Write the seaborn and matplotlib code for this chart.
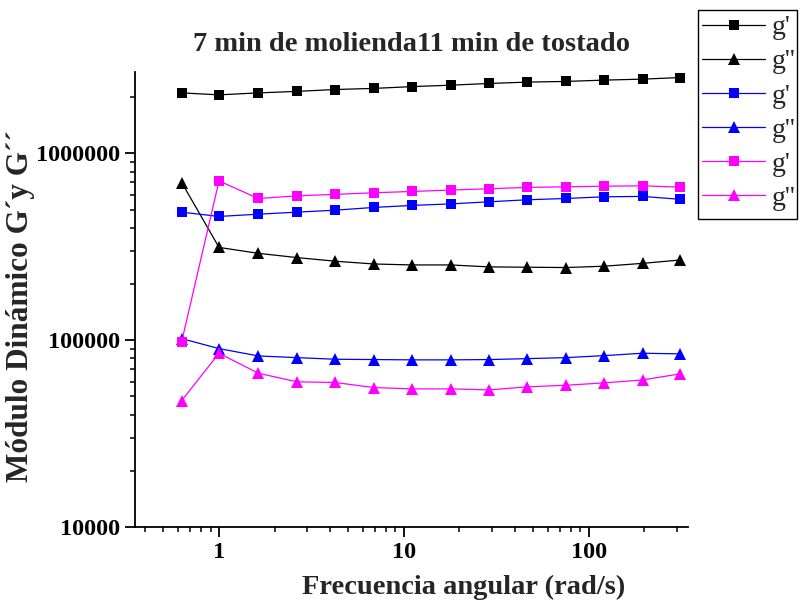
import numpy as np
import pandas as pd
import matplotlib
matplotlib.use("Agg")
import matplotlib.pyplot as plt
import seaborn as sns
from matplotlib.patches import Rectangle
from matplotlib.ticker import LogLocator, NullFormatter, FixedLocator, FixedFormatter

# ---- data ----
freq = [0.628, 1.0, 1.63, 2.64, 4.25, 6.87, 11.1, 17.9, 28.9, 46.5, 75.1, 121, 196, 314]

g1_black = [2.11e6, 2.06e6, 2.11e6, 2.15e6, 2.20e6, 2.23e6, 2.28e6, 2.32e6, 2.37e6, 2.41e6, 2.43e6, 2.47e6, 2.50e6, 2.55e6]
g2_black = [6.99e5, 3.14e5, 2.92e5, 2.77e5, 2.65e5, 2.56e5, 2.53e5, 2.53e5, 2.47e5, 2.46e5, 2.45e5, 2.49e5, 2.58e5, 2.69e5]
g1_blue = [4.85e5, 4.60e5, 4.73e5, 4.85e5, 4.97e5, 5.14e5, 5.27e5, 5.37e5, 5.51e5, 5.65e5, 5.74e5, 5.86e5, 5.89e5, 5.68e5]
g2_blue = [1.02e5, 9.02e4, 8.24e4, 8.07e4, 7.91e4, 7.88e4, 7.85e4, 7.85e4, 7.88e4, 7.97e4, 8.07e4, 8.27e4, 8.52e4, 8.45e4]
g1_mag = [9.83e4, 7.13e5, 5.74e5, 5.93e5, 6.04e5, 6.16e5, 6.26e5, 6.37e5, 6.47e5, 6.58e5, 6.63e5, 6.68e5, 6.71e5, 6.60e5]
g2_mag = [4.75e4, 8.52e4, 6.66e4, 5.99e4, 5.94e4, 5.58e4, 5.49e4, 5.49e4, 5.42e4, 5.63e4, 5.74e4, 5.91e4, 6.13e4, 6.61e4]

series_labels = ["g'", "g''", "g'", "g''", "g'", "g''"]
series_values = [g1_black, g2_black, g1_blue, g2_blue, g1_mag, g2_mag]
series_colors = ["#000000", "#000000", "#0000FF", "#0000FF", "#FF00FF", "#FF00FF"]
series_markers = ["s", "^", "s", "^", "s", "^"]

y_ticks = [10000, 100000, 1000000]
y_tick_labels = ["10000", "100000", "1000000"]
x_ticks = [1, 10, 100]
x_tick_labels = ["1", "10", "100"]

title = "7 min de molienda11 min de tostado"
xlabel = "Frecuencia angular (rad/s)"
ylabel = "Módulo Dinámico G´y G´´"

# ---- style ----
sns.set_style("ticks")
plt.rcParams["font.family"] = ["Liberation Serif", "DejaVu Serif"]

W, H = 801, 614
fig = plt.figure(figsize=(W/100, H/100), dpi=100)
ax = fig.add_axes([135/W, 1-527/H, (688-135)/W, (527-72)/H])
ax.set_xscale("log")
ax.set_yscale("log")

for i, (lab, vals, col, mk) in enumerate(zip(series_labels, series_values, series_colors, series_markers)):
    df = pd.DataFrame({"freq": freq, "val": vals})
    ms = 7.5 if mk == "s" else 9
    sns.lineplot(data=df, x="freq", y="val", ax=ax, color=col, marker=mk,
                 markersize=ms, markeredgewidth=0, linewidth=0.9, label=lab,
                 legend=False)

ax.set_xlim(0.351, 345)
ax.set_ylim(10000, 2.73e6)

for s in ["top", "right"]:
    ax.spines[s].set_visible(False)
for s in ["left", "bottom"]:
    ax.spines[s].set_linewidth(1.3)
    ax.spines[s].set_color("black")

ax.xaxis.set_major_locator(FixedLocator(x_ticks))
ax.xaxis.set_major_formatter(FixedFormatter(x_tick_labels))
ax.yaxis.set_major_locator(FixedLocator(y_ticks))
ax.yaxis.set_major_formatter(FixedFormatter(y_tick_labels))
ax.xaxis.set_minor_locator(LogLocator(base=10, subs=np.arange(2, 10), numticks=20))
ax.yaxis.set_minor_locator(LogLocator(base=10, subs=np.arange(2, 10), numticks=20))
ax.xaxis.set_minor_formatter(NullFormatter())
ax.yaxis.set_minor_formatter(NullFormatter())

ax.tick_params(axis="both", which="major", direction="out", length=7, width=1.3,
               labelsize=17.5, pad=4, colors="black")
ax.tick_params(axis="both", which="minor", direction="out", length=3.5, width=1.3)
for lbl in ax.get_xticklabels() + ax.get_yticklabels():
    lbl.set_fontweight("bold")

ax.set_xlabel(xlabel, fontsize=20.5, fontweight="bold")
ax.xaxis.set_label_coords((464-135)/553, -(600-527)/455)
ax.xaxis.label.set_va("bottom")
ax.set_ylabel(ylabel, fontsize=22.5, fontweight="bold")
ax.yaxis.set_label_coords(-(135-35)/553, (527-306)/455)
ax.set_title(title, fontsize=20.5, fontweight="bold", pad=15)
ax.grid(False)

handles, labels = ax.get_legend_handles_labels()
leg = fig.legend(handles, labels, loc="upper left", bbox_to_anchor=(702/W, 1-15/H),
                 frameon=False, fontsize=20,
                 handlelength=2.27, handletextpad=0.25, labelspacing=0.31,
                 borderpad=0, borderaxespad=0)
fig.patches.append(Rectangle((698/W, 1-219/H), (797-698)/W, (219-10)/H,
                             transform=fig.transFigure, fill=False,
                             edgecolor="black", linewidth=1.0))

fig.savefig("out.png", dpi=100)
